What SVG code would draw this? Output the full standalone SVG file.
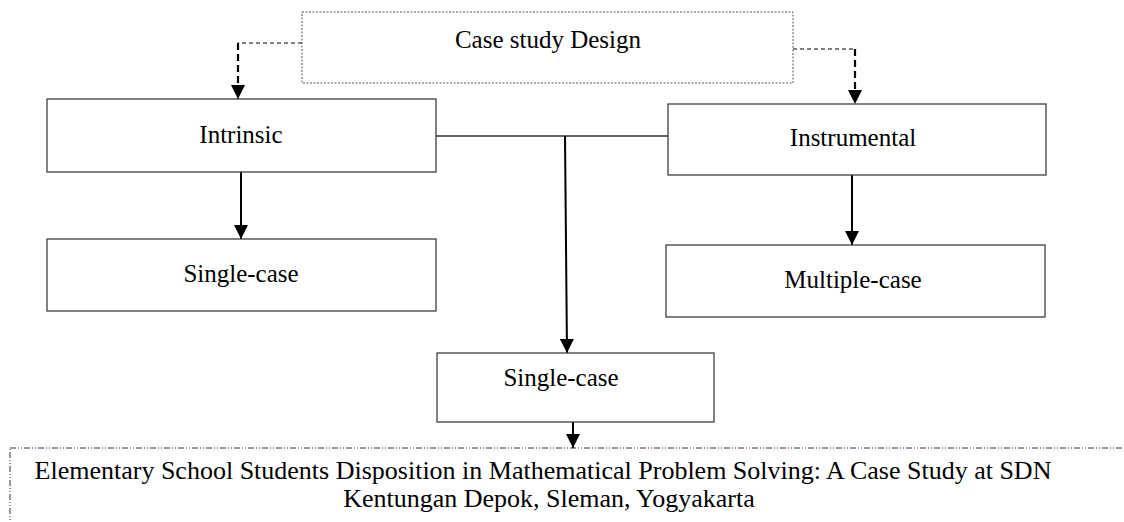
<svg xmlns="http://www.w3.org/2000/svg" width="1124" height="522" viewBox="0 0 1124 522">
<defs>
<marker id="ahb" viewBox="0 0 10 10" refX="10" refY="5" markerWidth="15" markerHeight="14" markerUnits="userSpaceOnUse" orient="auto">
<path d="M0,0 L10,5 L0,10 z" fill="#000"/>
</marker>
</defs>
<style>
.box{fill:#fff;stroke:#404040;stroke-width:1.3}
.lbl{font-family:"Liberation Serif","Times New Roman",serif;font-size:25px;fill:#000;text-anchor:middle}
.ttl{font-family:"Liberation Serif","Times New Roman",serif;font-size:26px;fill:#000;text-anchor:middle}
.sol{fill:none;stroke:#000;stroke-width:2}
.thin{fill:none;stroke:#333;stroke-width:1.3}
.dash{fill:none;stroke:#000;stroke-width:1;stroke-dasharray:4 3}
.dashb{fill:none;stroke:#000;stroke-width:2.2;stroke-dasharray:7 4}
</style>
<rect width="1124" height="522" fill="#fff"/>
<g id="connectors">
<path class="dash" d="M302,43 H238"/>
<path class="dashb" d="M238,43 V99" marker-end="url(#ahb)"/>
<path class="dash" d="M793,49 H855"/>
<path class="dashb" d="M855,49 V104" marker-end="url(#ahb)"/>
<path class="thin" d="M436,136 H668"/>
<path class="sol" d="M565,136 L567,353" marker-end="url(#ahb)"/>
<path class="sol" d="M241,172 V239" marker-end="url(#ahb)"/>
<path class="sol" d="M852,175 V245" marker-end="url(#ahb)"/>
<path class="sol" d="M573,422 V448" marker-end="url(#ahb)"/>
</g>
<g id="case-study-design">
<rect x="302" y="12" width="491" height="71" fill="#fff" stroke="#555" stroke-width="1" stroke-dasharray="2 1.5"/>
<text class="lbl" x="548" y="48">Case study Design</text>
</g>
<g id="intrinsic">
<rect class="box" x="47" y="99" width="389" height="73"/>
<text class="lbl" x="241" y="143">Intrinsic</text>
</g>
<g id="instrumental">
<rect class="box" x="668" y="104" width="378" height="71"/>
<text class="lbl" x="853" y="146">Instrumental</text>
</g>
<g id="single-case-1">
<rect class="box" x="47" y="239" width="389" height="72"/>
<text class="lbl" x="241" y="282">Single-case</text>
</g>
<g id="multiple-case">
<rect class="box" x="666" y="245" width="379" height="72"/>
<text class="lbl" x="853" y="288">Multiple-case</text>
</g>
<g id="single-case-2">
<rect class="box" x="437" y="353" width="277" height="69"/>
<text class="lbl" x="561" y="386">Single-case</text>
</g>
<g id="title">
<rect x="10" y="448" width="1130" height="100" fill="none" stroke="#333" stroke-width="1" stroke-dasharray="6 2 1 2 1 2"/>
<text class="ttl" x="543" y="479">Elementary School Students Disposition in Mathematical Problem Solving: A Case Study at SDN</text>
<text class="ttl" x="549" y="507">Kentungan Depok, Sleman, Yogyakarta</text>
</g>
</svg>
